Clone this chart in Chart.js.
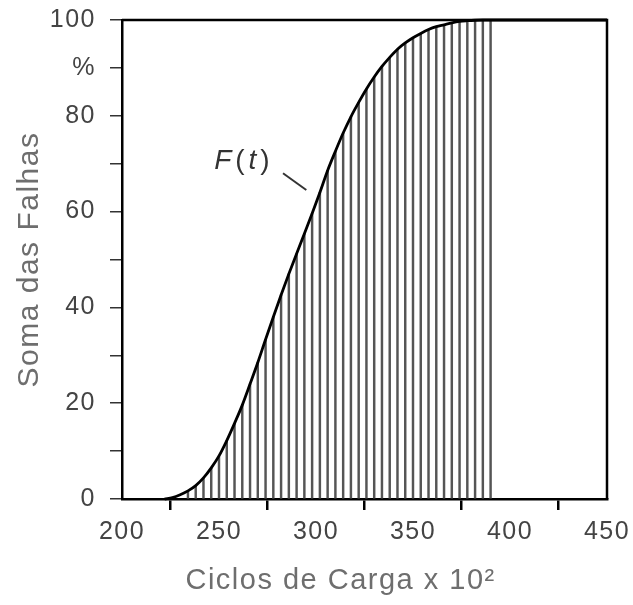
<!DOCTYPE html>
<html>
<head>
<meta charset="utf-8">
<script src="https://cdn.jsdelivr.net/npm/chart.js@4"></script>
<style>
  body { margin: 0; background: #fff; }
</style>
</head>
<body>
<canvas id="myChart" width="633" height="605"></canvas>
<script>
// cumulative failures F(t)
const cycles = [222, 226, 230, 234, 238, 242, 246, 250, 254, 258, 262, 266, 270, 274, 278,
  282, 286, 290, 294, 298, 302, 306, 310, 314, 318, 322, 326, 330, 334, 338, 342, 346,
  350, 354, 358, 362, 366, 370, 374, 378, 382, 386, 390, 450];
const failures = [0, 0.3, 0.9, 1.7, 2.8, 4.4, 6.5, 9.0, 12.2, 15.8, 19.6, 24.0, 28.5, 33.3, 38.0,
  42.6, 47.0, 51.2, 55.4, 59.6, 64.0, 68.6, 72.6, 76.4, 79.8, 82.8, 85.6, 88.1, 90.3, 92.2, 93.9, 95.2,
  96.3, 97.2, 98.0, 98.6, 99.0, 99.4, 99.7, 99.85, 99.95, 100, 100, 100];
// vertical hatch lines only between these cycles
const hatchFrom = 234;
const hatchTo = 390;

const xTicks = [200, 250, 300, 350, 400, 450];
const yLabels = { 0: '0', 20: '20', 40: '40', 60: '60', 80: '80', 90: '%', 100: '100' };

const curvePoints = cycles.map((c, i) => ({ x: c, y: failures[i] }));
const hatchPoints = curvePoints.filter(p => p.x >= hatchFrom && p.x <= hatchTo);

const spacing = {
  id: 'spacing',
  beforeUpdate(chart) { chart.ctx.letterSpacing = '1.5px'; },
  beforeDraw(chart) { chart.ctx.letterSpacing = '1.5px'; }
};

const frame = {
  id: 'frame',
  afterDraw(chart) {
    const { ctx, chartArea: a, scales } = chart;
    ctx.save();
    ctx.strokeStyle = '#000';
    ctx.lineWidth = 2.5;
    ctx.beginPath();
    ctx.moveTo(a.left, a.top);
    ctx.lineTo(a.right, a.top);
    ctx.lineTo(a.right, a.bottom);
    ctx.stroke();

    // F(t) label with leader line
    const x = scales.x, y = scales.y;
    ctx.fillStyle = '#333';
    ctx.textBaseline = 'middle';
    ctx.textAlign = 'left';
    let px = x.getPixelForValue(247.5);
    const py = y.getPixelForValue(70.5);
    const parts = [['italic 28px "Liberation Sans"', 'F'], ['28px "Liberation Sans"', '('],
      ['italic 28px "Liberation Sans"', 't'], ['28px "Liberation Sans"', ')']];
    ctx.letterSpacing = '2px';
    parts.forEach(([f, t]) => {
      ctx.font = f;
      ctx.fillText(t, px, py);
      px += ctx.measureText(t).width + 2;
    });
    ctx.strokeStyle = '#333';
    ctx.lineWidth = 2;
    ctx.beginPath();
    ctx.moveTo(x.getPixelForValue(283), y.getPixelForValue(68));
    ctx.lineTo(x.getPixelForValue(295), y.getPixelForValue(64.5));
    ctx.stroke();
    ctx.restore();
  }
};

const ctx = document.getElementById('myChart').getContext('2d');

new Chart(ctx, {
  data: {
    datasets: [{
      type: 'line',
      label: 'F(t)',
      data: curvePoints,
      borderColor: '#000',
      borderWidth: 2.8,
      pointRadius: 0,
      cubicInterpolationMode: 'monotone',
      clip: false,
      order: 0
    }, {
      type: 'bar',
      label: 'hatch',
      data: hatchPoints,
      backgroundColor: '#555',
      barThickness: 1.8,
      order: 1
    }]
  },
  options: {
    responsive: false,
    animation: false,
    layout: { padding: { left: 0, top: 20, right: 26, bottom: 0 } },
    plugins: { legend: { display: false }, tooltip: { enabled: false } },
    scales: {
      x: {
        type: 'linear',
        min: 200,
        max: 450,
        offset: false,
        afterFit(scale) {
          scale.height = 106;
          scale.paddingLeft = 0;
          scale.paddingRight = 0;
        },
        afterBuildTicks(scale) { scale.ticks = xTicks.map(v => ({ value: v })); },
        border: { display: true, color: '#000', width: 2.5 },
        grid: { drawOnChartArea: false, drawTicks: true, tickLength: 11, color: '#000', lineWidth: 2.5 },
        ticks: {
          color: '#444',
          padding: 7,
          maxRotation: 0,
          font: { family: '"Liberation Sans", Arial, sans-serif', size: 25 }
        },
        title: {
          display: true,
          text: 'Ciclos de Carga x 10²\u00a0\u00a0\u00a0\u00a0\u00a0',
          color: '#6e6e6e',
          padding: { top: 0, bottom: 7 },
          font: { family: '"Liberation Sans", Arial, sans-serif', size: 29 }
        }
      },
      y: {
        min: 0,
        max: 100,
        afterFit(scale) {
          scale.width = 122;
          scale.paddingTop = 0;
          scale.paddingBottom = 0;
        },
        border: { display: true, color: '#000', width: 2.5 },
        grid: { drawOnChartArea: false, drawTicks: true, tickLength: 12, color: '#333', lineWidth: 1.5 },
        ticks: {
          stepSize: 10,
          color: '#444',
          padding: 14,
          font: { family: '"Liberation Sans", Arial, sans-serif', size: 25 },
          callback: v => (v in yLabels ? yLabels[v] : '')
        },
        title: {
          display: true,
          text: 'Soma das Falhas',
          color: '#6e6e6e',
          padding: { top: 12, bottom: 0 },
          font: { family: '"Liberation Sans", Arial, sans-serif', size: 30 }
        }
      }
    }
  },
  plugins: [spacing, frame]
});
</script>
</body>
</html>
